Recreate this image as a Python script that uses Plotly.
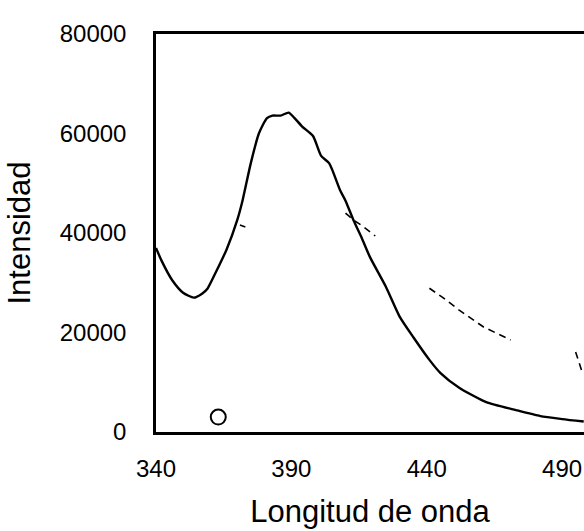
import plotly.graph_objects as go

# Emission spectrum (main trace)
wavelength = [340, 342, 346, 350, 354, 357, 359, 362, 366, 370, 372, 375, 378,
              381, 383, 386, 389, 391, 394, 398, 401, 404, 408, 410, 413, 416,
              419, 425, 430, 435, 441, 445, 452, 462, 473, 482, 490, 498]
intensity = [37000, 34500, 30500, 28000, 27000, 27800, 28800, 32000, 36600,
             42600, 46600, 54000, 60000, 63100, 63600, 63600, 64200, 63200,
             61400, 59500, 55500, 54000, 48600, 46500, 42500, 39000, 35200,
             29100, 23200, 19100, 14500, 11900, 8900, 6000, 4400, 3200, 2600,
             2100]

# Faint second trace (only the visible pieces)
wavelength_b = [371, 373, None, 410, 413, 416, 421, None,
                441, 446, 452, 461, 471, None, 495, 497.5]
intensity_b = [41600, 41200, None, 44000, 42600, 41500, 39400, None,
               28900, 27000, 24500, 21100, 18500, None, 16100, 11900]

# Single reference point
point_x = [363]
point_y = [3000]

x_ticks = [340, 390, 440, 490]
y_ticks = [0, 20000, 40000, 60000, 80000]

fig = go.Figure()
fig.add_trace(go.Scatter(x=wavelength, y=intensity, mode="lines",
                         line=dict(color="black", width=2.4, shape="spline",
                                   smoothing=0.6),
                         showlegend=False, hoverinfo="skip"))
fig.add_trace(go.Scatter(x=wavelength_b, y=intensity_b, mode="lines",
                         line=dict(color="black", width=1.6, dash="7px,5px"),
                         connectgaps=False, showlegend=False, hoverinfo="skip"))
fig.add_trace(go.Scatter(x=point_x, y=point_y, mode="markers",
                         marker=dict(symbol="circle-open", size=15,
                                     color="black", line=dict(width=2)),
                         showlegend=False, hoverinfo="skip"))

font = "Liberation Sans, Arial, sans-serif"
fig.update_layout(
    width=584, height=531,
    margin=dict(l=156, r=0, t=34, b=99),
    paper_bgcolor="white", plot_bgcolor="white",
    font=dict(family=font, color="black"),
    xaxis=dict(range=[340, 498.1], tickvals=x_ticks,
               ticktext=[str(v) for v in x_ticks],
               showgrid=False, zeroline=False,
               showline=True, linecolor="black", linewidth=2.5, mirror=True,
               ticks="", tickfont=dict(size=24), ticklabelstandoff=13,
               title=dict(text="Longitud de onda", font=dict(size=31),
                          standoff=20)),
    yaxis=dict(range=[0, 80000], tickvals=y_ticks,
               ticktext=[str(v) for v in y_ticks],
               showgrid=False, zeroline=False,
               showline=True, linecolor="black", linewidth=2.5,
               ticks="", tickfont=dict(size=24), ticklabelstandoff=22,
               title=dict(text="Intensidad", font=dict(size=31),
                          standoff=20)),
)

fig.write_html("out.html")
